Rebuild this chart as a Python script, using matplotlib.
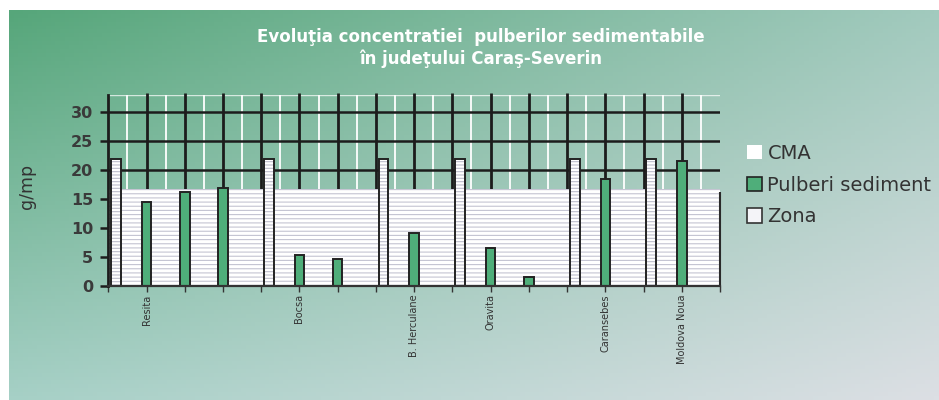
import numpy as np
import matplotlib.pyplot as plt
from matplotlib.patches import Patch

#---------Data--------------------------------------------
locations = ['Resita', 'Bocsa', 'B. Herculane', 'Oravita', 'Caransebes', 'Moldova Noua']
pulberi = [[14.5, 16.2, 17.0], [5.4, 4.6], [9.2], [6.6, 1.6], [18.5], [21.6]]  # g/mp
cma = 22.0   # limit value (CMA)
zona = 16.8  # "Zona" band
yticks = [0, 5, 10, 15, 20, 25, 30]
title1 = 'Evoluţia concentratiei  pulberilor sedimentabile'
title2 = 'în judeţului Caraş-Severin'

green = '#4fae7a'
plt.rcParams['font.family'] = ['DejaVu Sans']
plt.rcParams['hatch.linewidth'] = 0.8

# slot layout: one slot for the CMA bar, then one slot per measurement
cma_x, pulb_x, pulb_v, label_x = [], [], [], []
slot = 0
for loc, vals in zip(locations, pulberi):
    cma_x.append(slot + 0.2)
    for j, v in enumerate(vals):
        pulb_x.append(slot + 1 + j)
        pulb_v.append(v)
    label_x.append(slot + 1)
    slot += 1 + len(vals)
nslots = slot

fig = plt.figure(figsize=(9.39, 4.0), dpi=100)
fig.patch.set_facecolor('white')

# scanned gradient background
bg = fig.add_axes([0, 0, 1, 1], zorder=-10)
tl, tr = np.array([86, 166, 122]), np.array([162, 202, 190])
bl, br = np.array([166, 208, 198]), np.array([220, 223, 228])
u = np.linspace(0, 1, 200)[None, :, None]
v = np.linspace(0, 1, 100)[:, None, None]
img = (tl*(1-u)*(1-v) + tr*u*(1-v) + bl*(1-u)*v + br*u*v)/255
bg.imshow(img, extent=[9, 939, 400, 10], aspect='auto')
bg.set_xlim(0, 939); bg.set_ylim(400, 0)
bg.axis('off')

ymax = 33.0
ax = fig.add_axes([108.3/939, 1-286/400, (720-108.3)/939, (286-95)/400])
ax.set_facecolor('none')
ax.set_xlim(0, nslots); ax.set_ylim(0, ymax)

# grid pattern of the plot area
for yv in yticks[1:]:
    ax.axhline(yv, color='#1c1c1c', lw=1.8, zorder=1.2)
ax.vlines(np.arange(0.5, nslots, 1), 0, ymax, color='white', lw=1.3, zorder=1.1)
ax.vlines(np.arange(1, nslots), 0, ymax + 0.4, color='#1c1c1c', lw=2.0, zorder=1.3, clip_on=False)
ax.axhline(ymax, color='white', lw=1.0, alpha=0.7, zorder=1)

# Zona band (white, striped)
ax.bar(np.arange(nslots) + 0.5, [zona]*nslots, width=1.0, color='white',
       edgecolor='#c4c4d2', hatch='----', linewidth=0, zorder=2)
ax.vlines(nslots, 0, zona - 0.6, color='#2a2a2a', lw=1.5, zorder=2.1, clip_on=False)

# CMA bars
ax.bar(cma_x, [cma]*len(cma_x), width=0.25, color='white', edgecolor='#bdbdcc',
       hatch='-----', linewidth=0, zorder=3)
ax.bar(cma_x, [cma]*len(cma_x), width=0.25, fill=False, edgecolor='#222222',
       linewidth=1.4, zorder=3.1)

# Pulberi sediment bars
ax.bar(pulb_x, pulb_v, width=0.25, color=green, edgecolor='#222222', linewidth=1.4, zorder=3)

for s in ['top', 'right']:
    ax.spines[s].set_visible(False)
ax.spines['left'].set_color('#1c1c1c'); ax.spines['left'].set_linewidth(2.0)
ax.spines['bottom'].set_color('#333333'); ax.spines['bottom'].set_linewidth(1.6)
ax.spines['left'].set_zorder(4); ax.spines['bottom'].set_zorder(4)

ax.set_yticks(yticks)
ax.tick_params(axis='y', length=6, width=1.8, color='#1c1c1c', pad=5,
               labelsize=11.5, labelcolor='#3a3a3a')
for t in ax.get_yticklabels():
    t.set_fontweight('bold')

xlabels = [''] * (nslots + 1)
for x, loc in zip(label_x, locations):
    xlabels[x] = loc
ax.set_xticks(range(nslots + 1))
ax.set_xticklabels(xlabels, rotation=90, fontsize=7, color='#333333')
ax.tick_params(axis='x', length=4, width=1, color='#333333', pad=2)

fig.text(27/939, 1-186/400, 'g/mp', rotation=90, fontsize=12.5, color='#333333',
         ha='center', va='center')
fig.text(481/939, 1-37/400, title1, ha='center', va='center', color='white',
         fontsize=12, fontweight='bold')
fig.text(481/939, 1-59/400, title2, ha='center', va='center', color='white',
         fontsize=12, fontweight='bold')

handles = [Patch(facecolor='white', edgecolor='none'),
           Patch(facecolor=green, edgecolor='#222222', linewidth=1.2),
           Patch(facecolor='#f4f4f8', edgecolor='#333333', linewidth=1.2)]
fig.legend(handles, ['CMA', 'Pulberi sediment', 'Zona'], loc='upper left',
           bbox_to_anchor=(747/939, 1-144/400), frameon=False, fontsize=14,
           handlelength=0.75, handleheight=0.75, handletextpad=0.3,
           labelspacing=0.65, borderpad=0, borderaxespad=0, labelcolor='#333333')

fig.savefig('out.png', dpi=100)
